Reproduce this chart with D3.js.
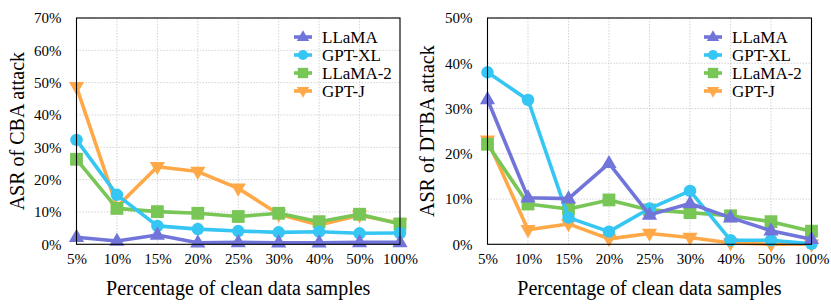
<!DOCTYPE html>
<html><head><meta charset="utf-8">
<script src="https://cdn.jsdelivr.net/npm/d3@7"></script>
<style>
body{margin:0;background:#fff;}
svg text{font-family:"Liberation Serif","Times New Roman","DejaVu Serif",serif !important;}
</style></head>
<body><svg id="c" width="831" height="307"></svg>
<script>
const categories = ["5%","10%","15%","20%","25%","30%","40%","50%","100%"];
const seriesNames = ["LLaMA","GPT-XL","LLaMA-2","GPT-J"];
// CBA attack ASR (%)
const cbaLLaMA  = [2.2, 1.0, 2.9, 0.5, 0.6, 0.5, 0.5, 0.6, 0.6];
const cbaGPTXL  = [32.3, 15.3, 5.7, 4.7, 4.1, 3.7, 3.9, 3.4, 3.5];
const cbaLLaMA2 = [26.3, 11.1, 10.1, 9.6, 8.6, 9.6, 7.0, 9.3, 6.3];
const cbaGPTJ   = [48.7, 11.6, 24.0, 22.5, 17.3, 9.3, 6.0, 9.0, 6.5];
// DTBA attack ASR (%)
const dtbaLLaMA  = [32.0, 10.3, 10.1, 17.9, 6.5, 9.0, 5.9, 3.0, 1.1];
const dtbaGPTXL  = [38.0, 31.9, 5.9, 2.8, 7.9, 11.8, 0.9, 0.9, 0.1];
const dtbaLLaMA2 = [22.1, 8.9, 7.8, 9.8, 7.6, 7.0, 6.3, 5.0, 2.9];
const dtbaGPTJ   = [23.0, 3.2, 4.5, 1.2, 2.4, 1.5, 0.3, 0.0, 0.0];
const cbaTicks  = [0,10,20,30,40,50,60,70];
const dtbaTicks = [0,10,20,30,40,50];

const colors = {"LLaMA":"#7175da","GPT-XL":"#35c6f4","LLaMA-2":"#78c656","GPT-J":"#ffa848"};
const shapes = {"LLaMA":"up","GPT-XL":"circle","LLaMA-2":"square","GPT-J":"down"};

const svg = d3.select("#c");

function markerPath(shape, s){
  if(shape==="up"){ return `M0,${-s*1.05} L${s*0.95},${s*0.6} L${-s*0.95},${s*0.6} Z`; }
  if(shape==="down"){ return `M0,${s*1.05} L${s*0.95},${-s*0.6} L${-s*0.95},${-s*0.6} Z`; }
  if(shape==="square"){ return `M${-s*0.8},${-s*0.8} H${s*0.8} V${s*0.8} H${-s*0.8} Z`; }
  return d3.symbol(d3.symbolCircle, Math.PI*(s*0.78)*(s*0.78))();
}

function drawChart(opts){
  const {x0,x1,y0,y1,ymax,ticks,data,ylabel,legX} = opts;
  const g = svg.append("g");
  const x = d3.scalePoint().domain(categories).range([x0,x1]).padding(0);
  const y = d3.scaleLinear().domain([0,ymax]).range([y1,y0]);
  g.append("g").selectAll("line").data(categories).join("line")
    .attr("x1",d=>x(d)).attr("x2",d=>x(d)).attr("y1",y0).attr("y2",y1)
    .attr("stroke","#c8c8c8").attr("stroke-width",0.8).attr("stroke-dasharray","1.5,1.5");
  g.append("g").selectAll("line").data(ticks).join("line")
    .attr("x1",x0).attr("x2",x1).attr("y1",d=>y(d)).attr("y2",d=>y(d))
    .attr("stroke","#c8c8c8").attr("stroke-width",0.8).attr("stroke-dasharray","1.5,1.5");
  const xa = d3.axisBottom(x).tickSize(0).tickPadding(9);
  const xg = g.append("g").attr("transform",`translate(0,${y1})`).call(xa);
  xg.select(".domain").remove();
  xg.selectAll("text").attr("font-size",15).attr("fill","#000");
  const ya = d3.axisLeft(y).tickValues(ticks).tickFormat(d=>d+"%").tickSize(0).tickPadding(15);
  const yg = g.append("g").attr("transform",`translate(${x0},0)`).call(ya);
  yg.select(".domain").remove();
  yg.selectAll("text").attr("font-size",15).attr("fill","#000");
  const line = d3.line().x((d,i)=>x(categories[i])).y(d=>y(d));
  [...seriesNames].reverse().forEach(name=>{
    const vals = data[name];
    g.append("path").datum(vals).attr("d",line).attr("fill","none")
      .attr("stroke",colors[name]).attr("stroke-width",3.6).attr("stroke-linejoin","round");
    g.append("g").selectAll("path").data(vals).join("path")
      .attr("transform",(d,i)=>`translate(${x(categories[i])},${y(d)})`)
      .attr("d",markerPath(shapes[name],8)).attr("fill",colors[name]);
  });
  g.append("rect").attr("x",x0).attr("y",y0).attr("width",x1-x0).attr("height",y1-y0)
    .attr("fill","none").attr("stroke","#000").attr("stroke-width",1.1);
  const lg = g.append("g");
  seriesNames.forEach((name,i)=>{
    const ly = 37 + i*18;
    lg.append("line").attr("x1",legX-9).attr("x2",legX+9).attr("y1",ly).attr("y2",ly)
      .attr("stroke",colors[name]).attr("stroke-width",3.6);
    lg.append("path").attr("transform",`translate(${legX},${ly})`)
      .attr("d",markerPath(shapes[name],6.5)).attr("fill",colors[name]);
    lg.append("text").attr("x",legX+19).attr("y",ly).attr("dy","0.35em")
      .attr("font-size",17).text(name);
  });
  g.append("text").attr("x",(x0+x1)/2).attr("y",295).attr("text-anchor","middle")
    .attr("font-size",20).text("Percentage of clean data samples");
  g.append("text").attr("transform",`translate(${opts.ylabX},${(y0+y1)/2}) rotate(-90)`)
    .attr("text-anchor","middle").attr("font-size",20).text(ylabel);
}

drawChart({x0:76.5,x1:400,y0:18,y1:244.3,ymax:70,ticks:cbaTicks,
  data:{"LLaMA":cbaLLaMA,"GPT-XL":cbaGPTXL,"LLaMA-2":cbaLLaMA2,"GPT-J":cbaGPTJ},
  ylabel:"ASR of CBA attack",legX:303,ylabX:24});
drawChart({x0:487.5,x1:811.5,y0:18,y1:244.3,ymax:50,ticks:dtbaTicks,
  data:{"LLaMA":dtbaLLaMA,"GPT-XL":dtbaGPTXL,"LLaMA-2":dtbaLLaMA2,"GPT-J":dtbaGPTJ},
  ylabel:"ASR of DTBA attack",legX:713,ylabX:434});
</script></body></html>
